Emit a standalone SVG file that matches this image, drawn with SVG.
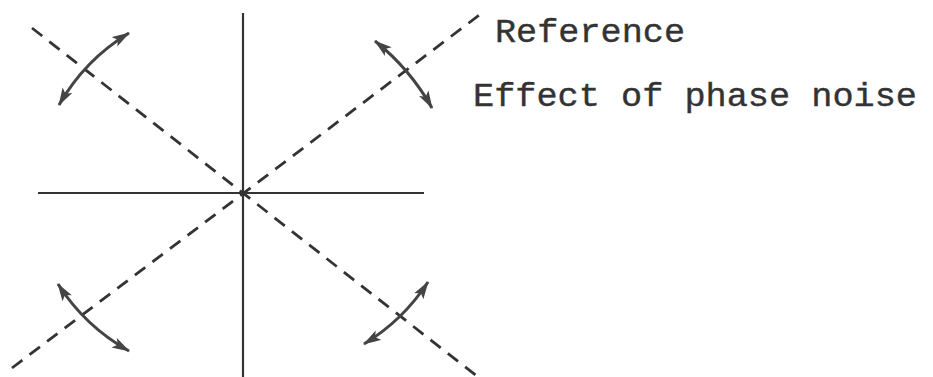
<svg xmlns="http://www.w3.org/2000/svg" width="933" height="377" viewBox="0 0 933 377">
<style>
.axis{stroke:#333;stroke-width:2.2;fill:none}
.dash{stroke:#333;stroke-width:2.8;fill:none;stroke-dasharray:13 9}
.arr{stroke:#444;stroke-width:3;fill:none;marker-start:url(#ah);marker-end:url(#ah)}
.lbl{font-family:"Liberation Mono","Courier New",monospace;font-size:34px;fill:#333;stroke:#333;stroke-width:0.4}
</style>
<defs>
<marker id="ah" viewBox="0 0 18 12" refX="17" refY="6" markerWidth="18" markerHeight="12" markerUnits="userSpaceOnUse" orient="auto-start-reverse">
<path d="M0,0.5 L18,6 L0,11.5 L4,6 z" fill="#444"/>
</marker>
</defs>
<rect width="933" height="377" fill="#fff"/>
<g id="connectors">
<line class="axis" x1="243" y1="13" x2="243" y2="377"/>
<line class="axis" x1="38" y1="193" x2="424" y2="193"/>
<line class="dash" x1="32" y1="28" x2="478" y2="377"/>
<line class="dash" x1="12" y1="368" x2="482" y2="13"/>
<path class="arr" d="M59 105 A200 200 0 0 1 129 33"/>
<path class="arr" d="M375 41 A230 230 0 0 1 432 108"/>
<path class="arr" d="M428 282 A200 200 0 0 1 364 344"/>
<path class="arr" d="M129 351 A200 200 0 0 1 58 284"/>
</g>
<g id="label-reference"><text class="lbl" x="495" y="42" textLength="190" lengthAdjust="spacingAndGlyphs">Reference</text></g>
<g id="label-effect"><text class="lbl" x="473" y="106" textLength="444" lengthAdjust="spacingAndGlyphs">Effect of phase noise</text></g>
</svg>
